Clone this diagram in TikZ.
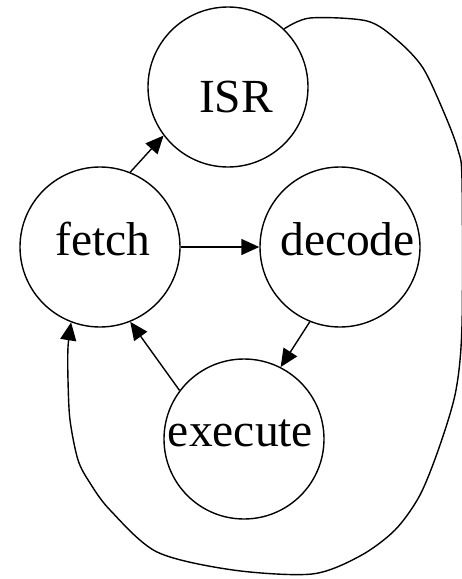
\documentclass[tikz,border=0pt]{standalone}
\usepackage{fontspec}
\setmainfont{Liberation Serif}
\usetikzlibrary{arrows.meta}

\tikzset{
  state/.style={draw, circle, line width=1.4pt, minimum size=160pt, inner sep=0pt},
  every label/.style={text height=30pt, text depth=0pt, inner sep=0pt},
  arr/.style={-{Triangle[length=18pt, width=16pt]}, line width=1.4pt},
}

\begin{document}
\begin{tikzpicture}[x=1pt, y=-1pt, font=\fontsize{47.5}{57}\selectfont]
  \useasboundingbox (0,0) rectangle (462,579);
  % the four states of the cycle
  \foreach \n/\px/\py/\dx/\dy/\txt in {isr/228/87/8/-10/ISR, fetch/100/247/3/7/fetch,
                                      decode/340/247/7.5/7/decode, execute/244/439/-3.5/8/execute}
    \node[state, label={[xshift=\dx pt, yshift=\dy pt]center:\txt}] (\n) at (\px,\py) {};
  \draw[arr] (fetch.68) -- (isr.217);
  \draw[arr] (fetch) -- (decode);
  \draw[arr] (decode.248) -- (execute.63);
  \draw[arr] (execute.143) -- (fetch.292);
  % return from the interrupt, round the right and bottom
  \draw[arr] plot[smooth, tension=0.5] coordinates {(isr.46) (310,18) (367,21) (397,40) (423,68)
    (445,115) (458,150) (462,180) (462,325) (456,390) (440,445) (420,495) (395,530) (360,556)
    (312,574) (233,570) (157,552) (110,510) (90,483) (78,460) (70,420) (68,380) (68,347) (fetch.249)};
\end{tikzpicture}
\end{document}
